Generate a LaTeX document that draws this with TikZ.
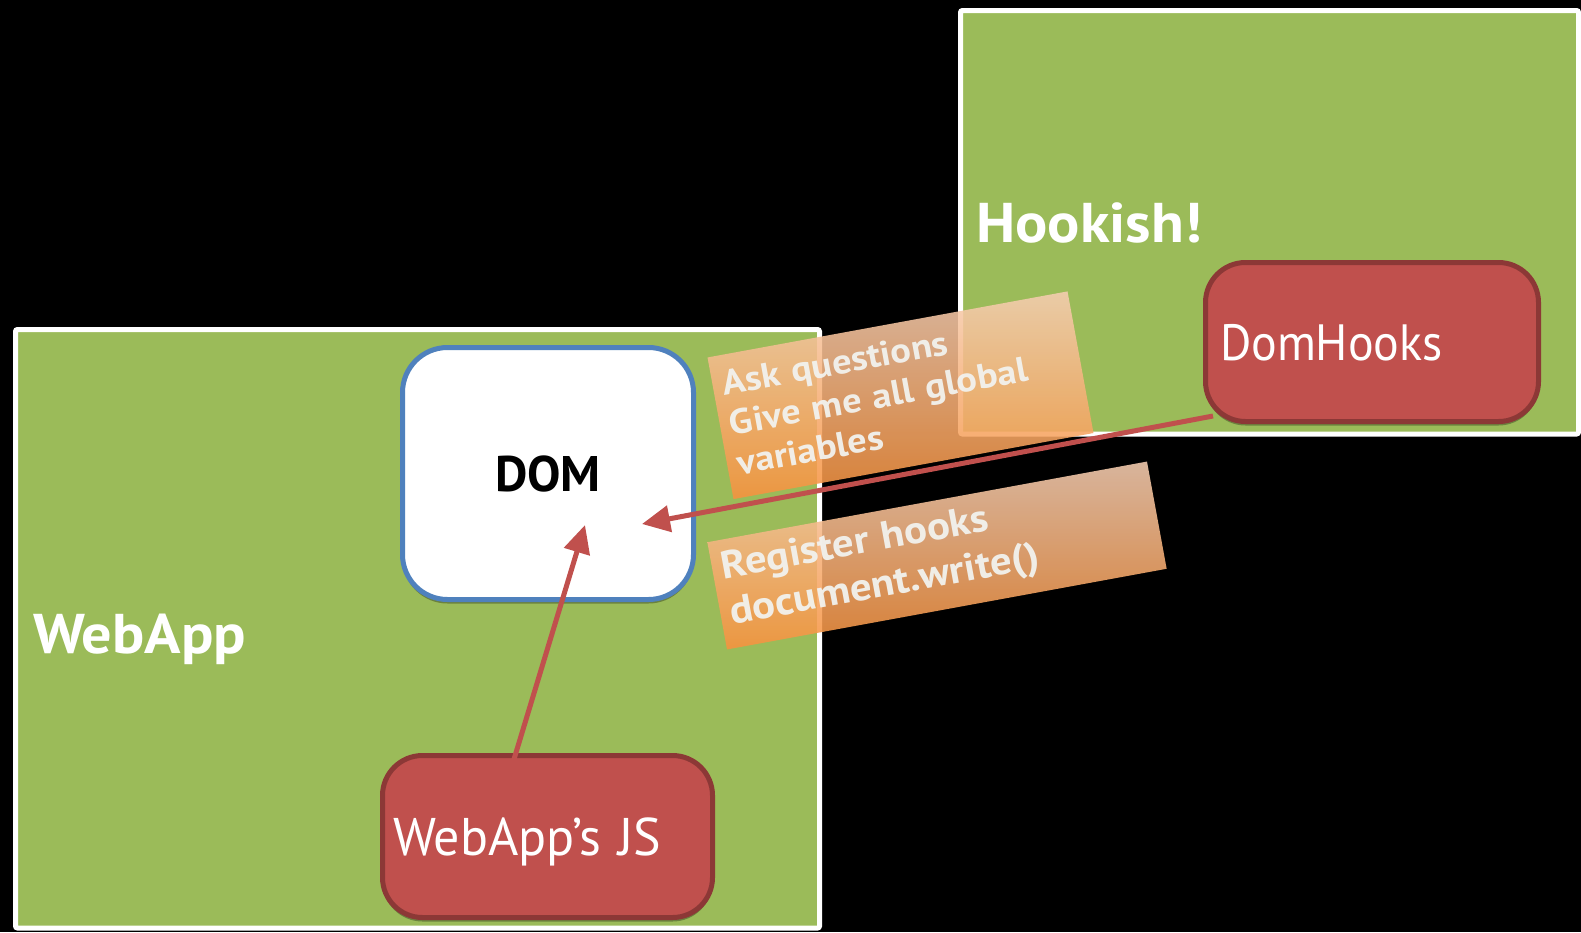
\documentclass[tikz,border=0pt]{standalone}
\usepackage{fontspec}
\setmainfont{PT Sans}
\newfontfamily\titlefont[FakeStretch=1.075]{PT Sans}
\newfontfamily\notefont[FakeStretch=1.1]{PT Sans}
\newfontfamily\hooksfont[FakeStretch=0.94]{PT Sans}
\newfontfamily\jsfont[FakeStretch=0.98]{PT Sans}
\usetikzlibrary{arrows.meta,shadows}

\definecolor{leaf}{RGB}{155,187,89}
\definecolor{brick}{RGB}{192,80,77}
\definecolor{brickdark}{RGB}{140,56,54}
\definecolor{steel}{RGB}{79,129,189}
\definecolor{peach}{RGB}{246,206,178}
\definecolor{tangerine}{RGB}{247,146,62}
\definecolor{notetext}{RGB}{242,242,238}

\tikzset{
  panel/.style={rectangle, fill=leaf, draw=white, line width=5pt,
    rounded corners=2pt, inner sep=0pt},
  paneltitle/.style={anchor=base west, inner sep=0pt, text=white,
    font=\titlefont\bfseries\fontsize{56pt}{60pt}\selectfont},
  softshadow/.style={drop shadow={shadow xshift=0pt, shadow yshift=-4pt,
    opacity=0.3, fill=black}},
  dombox/.style={rectangle, fill=white, draw=steel, line width=5pt,
    rounded corners=45pt, softshadow,
    font=\bfseries\fontsize{50pt}{54pt}\selectfont},
  codebox/.style={rectangle, fill=brick, draw=brickdark, line width=5pt,
    rounded corners=40pt, softshadow, text=white, align=left,
    inner ysep=0pt, text depth=0pt},
  notebox/.style={rectangle, top color=peach, bottom color=tangerine,
    fill opacity=0.88, text=notetext, text opacity=0.95, align=left,
    inner ysep=0pt, rotate=10.4},
  conn/.style={draw=brick, line width=5pt,
    -{Triangle[length=28pt,width=26pt]}}
}

\begin{document}
\begin{tikzpicture}[x=1pt,y=-1pt]
  % page
  \fill[black] (0,0) rectangle (1581,932);
  \useasboundingbox (0,0) rectangle (1581,932);

  % the two containers
  \node[panel, minimum width=804pt, minimum height=598.5pt]
    (webapp) at (417.5,628.75) {};
  \node[panel, minimum width=618pt, minimum height=423.5pt]
    (hookish) at (1269.5,222.25) {};
  \node[paneltitle] (webappTitle) at (33,653) {WebApp};
  \node[paneltitle] (hookishTitle) at (976,242) {Hookish!};

  % inner boxes
  \node[dombox, minimum width=291pt, minimum height=252pt]
    (dom) at (548,473.5) {DOM};
  \node[codebox, minimum width=330pt, minimum height=162pt,
    inner xsep=10.5pt, text width=309pt, text height=37pt,
    font=\jsfont\fontsize{53pt}{56pt}\selectfont]
    (js) at (547.5,836.5) {WebApp’s JS};
  \node[codebox, minimum width=333pt, minimum height=159pt,
    inner xsep=14.5pt, text width=304pt, text height=36pt,
    font=\hooksfont\fontsize{51pt}{54pt}\selectfont]
    (hooks) at (1372,342) {DomHooks};

  % connector ends
  \coordinate (hooksTail) at (1213,416);
  \coordinate (domTipA) at (642,524);
  \coordinate (jsTail) at (508,779);
  \coordinate (domTipB) at (585,525);

  \draw[conn] (hooksTail) -- (domTipA);
  \draw[conn] (jsTail) -- (domTipB);

  % call-out notes
  \node[notebox, minimum width=366pt, inner xsep=10pt, text width=346pt,
    text height=40.4pt, text depth=103.6pt,
    font=\notefont\bfseries\fontsize{35pt}{40.6pt}\selectfont]
    (askNote) at (900.5,395.25)
    {Ask questions\\Give me all global\\variables};
  \node[notebox, minimum width=447pt, inner xsep=9.5pt, text width=428pt,
    text height=39.3pt, text depth=69.7pt,
    font=\notefont\bfseries\fontsize{39pt}{46pt}\selectfont]
    (registerNote) at (937,555.5)
    {Register hooks\\document.write()};
\end{tikzpicture}
\end{document}
